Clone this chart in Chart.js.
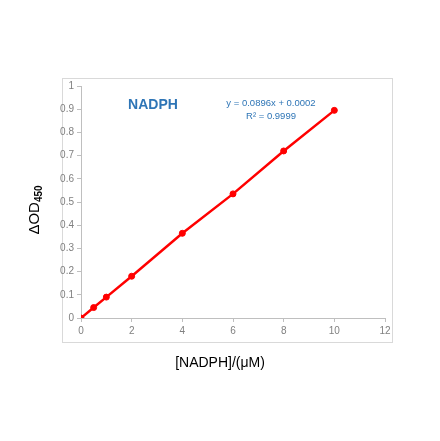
<!DOCTYPE html>
<html>
<head>
<meta charset="utf-8">
<script src="https://cdn.jsdelivr.net/npm/chart.js@4"></script>
<style>
  html, body { margin: 0; padding: 0; background: #fff; }
  #wrap { width: 440px; height: 441px; }
</style>
</head>
<body>
<div id="wrap"><canvas id="chart" width="440" height="441"></canvas></div>
<script>
var concentrations = [0, 0.5, 1, 2, 4, 6, 8, 10];
var odValues = [0, 0.045, 0.09, 0.18, 0.365, 0.535, 0.72, 0.895];
var xTicks = [0, 2, 4, 6, 8, 10, 12];
var yTicks = [0, 0.1, 0.2, 0.3, 0.4, 0.5, 0.6, 0.7, 0.8, 0.9, 1];

var points = [];
for (let i = 0; i < concentrations.length; i++) {
    points.push({ x: concentrations[i], y: odValues[i] });
}

// box, titles and the two text notes
var decor = {
    id: 'decor',
    beforeDraw: function (chart) {
        const c = chart.ctx;
        c.save();
        c.fillStyle = '#fff';
        c.fillRect(0, 0, chart.width, chart.height);
        c.strokeStyle = '#d9d9d9';
        c.lineWidth = 1;
        c.strokeRect(62.5, 78.5, 330, 264);
        c.restore();
    },
    afterDraw: function (chart) {
        const c = chart.ctx;
        c.save();
        c.fillStyle = '#2e75b6';
        c.font = 'bold 14px "Liberation Sans", Arial, sans-serif';
        c.textAlign = 'center';
        c.textBaseline = 'middle';
        c.fillText('NADPH', 153, 105);
        c.font = '9.5px "Liberation Sans", Arial, sans-serif';
        c.fillText('y = 0.0896x + 0.0002', 271, 103);
        c.fillText('R\u00b2 = 0.9999', 271, 116);

        c.fillStyle = '#000';
        c.font = '14px "Liberation Sans", Arial, sans-serif';
        c.fillText('[NADPH]/(\u03bcM)', 220, 363);

        c.translate(35, 210);
        c.rotate(-Math.PI / 2);
        c.textAlign = 'left';
        c.font = '15px "Liberation Sans", Arial, sans-serif';
        const main = '\u0394OD';
        const w1 = c.measureText(main).width;
        c.font = 'bold 10px "Liberation Sans", Arial, sans-serif';
        const w2 = c.measureText('450').width;
        const x0 = -(w1 + w2) / 2;
        c.font = '15px "Liberation Sans", Arial, sans-serif';
        c.fillText(main, x0, 0);
        c.font = 'bold 10px "Liberation Sans", Arial, sans-serif';
        c.fillText('450', x0 + w1, 4);
        c.restore();
    }
};

var tickFont = { family: '"Liberation Sans", Arial, sans-serif', size: 10 };

new Chart(document.getElementById('chart'), {
    type: 'scatter',
    data: {
        datasets: [{
            label: 'NADPH',
            data: points,
            showLine: true,
            borderColor: '#ff0000',
            backgroundColor: '#ff0000',
            borderWidth: 2.5,
            pointRadius: 3,
            pointBorderWidth: 1,
            pointHoverRadius: 3
        }]
    },
    options: {
        responsive: false,
        animation: false,
        layout: { padding: { left: 0, top: 86, right: 55, bottom: 0 } },
        plugins: { legend: { display: false }, tooltip: { enabled: false } },
        scales: {
            x: {
                type: 'linear',
                min: 0,
                max: 12,
                afterBuildTicks: function (axis) {
                    axis.ticks = xTicks.map(v => ({ value: v }));
                },
                afterFit: function (axis) { axis.height = 123; },
                border: { color: '#bfbfbf', width: 1 },
                grid: { drawOnChartArea: false, color: '#bfbfbf', tickLength: 4 },
                ticks: { color: '#808080', font: tickFont, padding: 3, maxRotation: 0,
                         callback: v => String(v) }
            },
            y: {
                type: 'linear',
                min: 0,
                max: 1,
                afterBuildTicks: function (axis) {
                    axis.ticks = yTicks.map(v => ({ value: v }));
                },
                afterFit: function (axis) { axis.width = 81; },
                border: { color: '#bfbfbf', width: 1 },
                grid: { drawOnChartArea: false, color: '#bfbfbf', tickLength: 4 },
                ticks: { color: '#808080', font: tickFont, padding: 3,
                         callback: v => String(v) }
            }
        }
    },
    plugins: [decor]
});
</script>
</body>
</html>
